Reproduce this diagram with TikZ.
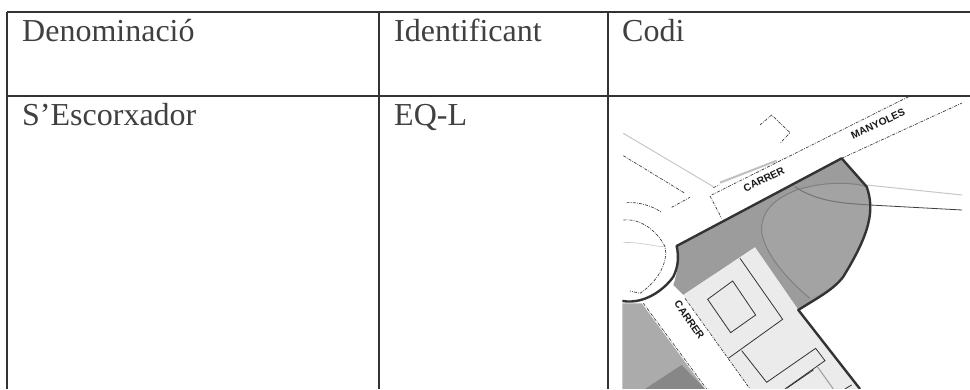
\documentclass[tikz,border=0pt]{standalone}
\usepackage{fontspec}
\setmainfont{Liberation Serif}
\newfontfamily\mapfont{Liberation Sans}
\definecolor{tableline}{gray}{0.2}
\definecolor{celltext}{gray}{0.25}
\tikzset{
  rule/.style={draw=tableline,line width=1.4pt},
  celltxt/.style={anchor=base west,inner sep=0pt,text=celltext,font=\fontsize{32}{32}\selectfont},
  boundary/.style={draw=black!80,line width=2.4pt,line join=round},
  thin plan/.style={draw=black!80,line width=.8pt},
  road edge/.style={draw=black!75,line width=.7pt,dash pattern=on 3pt off 1.2pt on .8pt off 1.2pt},
  faint/.style={draw=black!22,line width=.6pt},
  street/.style={inner sep=0pt,text=black!90,font=\mapfont\fontsize{10.3}{11}\selectfont\bfseries},
}
\begin{document}
\begin{tikzpicture}[x=1pt,y=-1pt]
\useasboundingbox (0,0) rectangle (970,389);
\fill[white] (0,0) rectangle (970,389);
% map
\begin{scope}[shift={(610,90)},x=.3333pt,y=-.3333pt]
\clip (37,18) rectangle (1080,897);
% planting areas
\fill[black!39] (200,468) -- (695,205) -- (770,290) .. controls (795,360) and (780,430) .. (700,560) .. controls (670,600) and (620,625) .. (565,660) -- (435,472) -- (220,615) -- (190,585) .. controls (205,540) and (210,500) .. (200,468) -- cycle;
\fill[black!36] (600,625) .. controls (520,560) and (450,470) .. (455,410) .. controls (460,350) and (510,320) .. (560,300) .. controls (640,275) and (720,275) .. (770,290) .. controls (795,360) and (780,430) .. (700,560) .. controls (670,590) and (635,610) .. (600,625) -- cycle;
\fill[black!8] (435,472) -- (220,615) -- (420,897) -- (745,897) -- (565,660) -- cycle;
\fill[black!33] (37,640) -- (95,640) -- (285,897) -- (37,897) -- cycle;
\fill[black!47] (105,897) -- (215,825) -- (285,897) -- cycle;
% faint lines
\draw[faint,line width=1pt] (40,130) -- (310,290);
\draw[faint,line width=1pt] (770,285) -- (1056,315);
\draw[faint] (40,458) .. controls (90,455) and (130,470) .. (165,470);
\draw[faint,line width=2pt,black!25] (330,278) -- (500,212);
\draw[draw=black!50,line width=1pt] (600,625) .. controls (520,560) and (450,470) .. (455,410) .. controls (460,350) and (510,320) .. (560,300) .. controls (640,275) and (720,275) .. (770,290);
\draw[draw=black!55,line width=1pt] (555,290) .. controls (620,335) and (700,340) .. (780,345);
\draw[draw=black!75,line width=.8pt] (780,345) -- (1056,360);
% road edges
\draw[road edge] (305,315) -- (900,18);
\draw[road edge] (695,205) -- (1056,39);
\draw[road edge] (300,318) -- (335,385);
\draw[road edge] (185,352) -- (240,322);
\draw[road edge] (310,293) -- (328,285);
\draw[road edge] (40,197) -- (225,310);
\draw[road edge] (50,338) .. controls (90,335) and (130,350) .. (155,367);
\draw[road edge] (40,390) .. controls (90,385) and (140,420) .. (165,470) .. controls (175,510) and (150,570) .. (90,610) -- (60,603);
\draw[road edge] (450,105) -- (485,75) -- (540,128) -- (510,160);
\draw[road edge] (100,640) -- (290,897);
\draw[road edge] (225,625) -- (420,897);
% buildings
\draw[thin plan] (390,505) -- (518,688) -- (355,805);
\draw[thin plan] (293,628) -- (368,573) -- (437,675) -- (362,728) -- cycle;
\draw[thin plan] (395,782) -- (470,877) -- (617,775) -- (645,812) -- (525,897);
\draw[draw=black!35,line width=1.2pt] (622,830) -- (670,897);
\draw[thin plan] (610,840) -- (530,895);
\draw[thin plan] (705,897) -- (725,885);
% boundary
\draw[boundary] (37,633) .. controls (110,645) and (170,590) .. (190,560) .. controls (205,530) and (207,500) .. (200,468) -- (695,205) -- (770,290) .. controls (795,360) and (780,430) .. (700,560) .. controls (670,600) and (620,625) .. (565,660) -- (750,897);
\node[street,rotate=26] (carrerA) at (462,268) {CARRER};
\node[street,rotate=25] (manyoles) at (804,102) {MANYOLES};
\node[street,rotate=-55] (carrerB) at (238,690) {CARRER};
\end{scope}
% table rules
\draw[rule] (7,12) -- (970,12);
\draw[rule] (7,96) -- (970,96);
\draw[rule] (7,12) -- (7,389);
\draw[rule] (379,12) -- (379,389);
\draw[rule] (608,12) -- (608,389);
% cell text
\node[celltxt] (h1) at (22,41) {Denominació};
\node[celltxt] (h2) at (394,41) {Identificant};
\node[celltxt] (h3) at (622,41) {Codi};
\node[celltxt] (c1) at (22,125) {S’Escorxador};
\node[celltxt] (c2) at (394,125) {EQ-L};
\end{tikzpicture}
\end{document}
